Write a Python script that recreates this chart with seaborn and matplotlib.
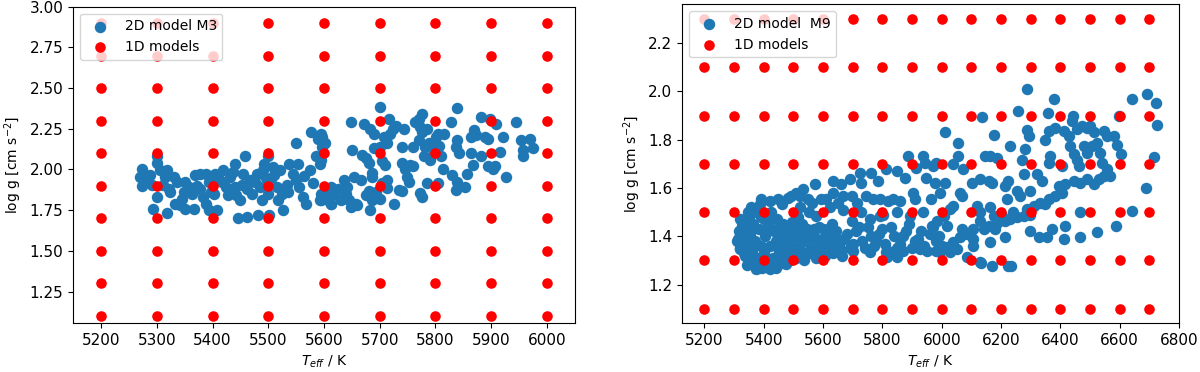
import numpy as np
import pandas as pd
import matplotlib
matplotlib.use('Agg')
import matplotlib.pyplot as plt
import seaborn as sns

# 1D model grids (red)
grid_teff_m3 = [5200, 5300, 5400, 5500, 5600, 5700, 5800, 5900, 6000]
grid_logg_m3 = [1.1, 1.3, 1.5, 1.7, 1.9, 2.1, 2.3, 2.5, 2.7, 2.9]
grid_teff_m9 = [5200, 5300, 5400, 5500, 5600, 5700, 5800, 5900, 6000,
                6100, 6200, 6300, 6400, 6500, 6600, 6700]
grid_logg_m9 = [1.1, 1.3, 1.5, 1.7, 1.9, 2.1, 2.3]

# 2D model M3 snapshots (blue)
m3_teff = [5273, 5270, 5273, 5288, 5291, 5300, 5300, 5300, 5294, 5318, 5306, 5318, 5315,
           5312, 5324, 5330, 5336, 5333, 5342, 5351, 5366, 5351, 5348, 5357, 5363, 5368,
           5377, 5389, 5377, 5383, 5393, 5389, 5393, 5408, 5402, 5405, 5419, 5417, 5425,
           5431, 5437, 5440, 5440, 5443, 5449, 5446, 5458, 5455, 5452, 5461, 5467, 5470,
           5479, 5482, 5485, 5488, 5493, 5490, 5496, 5500, 5502, 5500, 5508, 5511, 5515,
           5518, 5521, 5524, 5527, 5533, 5538, 5544, 5550, 5550, 5553, 5556, 5562, 5568,
           5574, 5577, 5580, 5586, 5589, 5593, 5593, 5595, 5598, 5601, 5607, 5613, 5616,
           5597, 5597, 5594, 5594, 5594, 5612, 5618, 5612, 5630, 5636, 5642, 5639, 5645,
           5648, 5654, 5657, 5660, 5666, 5648, 5651, 5672, 5683, 5689, 5668, 5676, 5680,
           5686, 5686, 5676, 5680, 5686, 5683, 5693, 5701, 5704, 5713, 5713, 5689, 5701,
           5704, 5710, 5707, 5713, 5716, 5701, 5719, 5723, 5729, 5725, 5734, 5740, 5740,
           5743, 5740, 5746, 5749, 5752, 5755, 5760, 5760, 5764, 5770, 5773, 5776, 5770,
           5776, 5773, 5776, 5779, 5782, 5785, 5785, 5788, 5791, 5797, 5798, 5801, 5804,
           5804, 5807, 5810, 5814, 5816, 5827, 5829, 5836, 5836, 5839, 5839, 5839, 5842,
           5853, 5856, 5863, 5863, 5867, 5869, 5873, 5882, 5882, 5888, 5894, 5894, 5897,
           5903, 5906, 5909, 5915, 5921, 5927, 5945, 5954, 5957, 5957, 5969, 5975,
           5285, 5322, 5345, 5372, 5398, 5412, 5428, 5462, 5476, 5505, 5535, 5565, 5625]
m3_logg = [2.00, 1.955, 1.90, 1.965, 1.905, 2.08, 2.037, 1.83, 1.76, 1.73, 1.995, 1.995, 1.955,
           1.905, 1.86, 1.955, 1.925, 1.79, 1.78, 1.76, 1.76, 1.925, 1.86, 1.89, 1.85, 1.965,
           1.975, 1.975, 1.88, 1.83, 1.925, 1.79, 1.75, 1.75, 1.85, 1.975, 1.995, 1.925, 1.89,
           1.955, 1.985, 2.035, 1.89, 1.84, 1.81, 1.70, 2.08, 1.975, 1.905, 1.71, 1.935, 1.85,
           1.975, 1.72, 1.89, 1.81, 2.035, 1.995, 1.945, 1.85, 1.72, 2.08, 2.015, 1.965, 1.89,
           1.81, 1.995, 1.85, 1.75, 1.905, 2.035, 1.975, 2.16, 1.935, 2.035, 1.89, 1.83, 1.79,
           1.995, 2.23, 1.915, 2.08, 2.185, 2.035, 1.81, 2.22, 1.85, 2.16, 1.81, 1.79, 1.85,
           2.20, 2.14, 2.06, 1.85, 1.81, 1.895, 1.85, 1.79, 1.81, 1.935, 1.895, 1.85, 1.81,
           1.77, 1.955, 1.79, 1.78, 1.935, 2.29, 2.12, 2.28, 2.25, 2.22, 2.09, 2.07, 2.04,
           1.98, 1.955, 1.84, 1.87, 1.81, 1.75, 1.86, 1.82, 1.915, 1.935, 1.885, 2.13, 2.14,
           2.05, 2.03, 2.20, 2.16, 2.31, 2.385, 2.22, 2.25, 2.27, 1.79, 1.875, 1.865, 2.14,
           2.25, 2.04, 2.005, 1.955, 1.925, 2.03, 2.02, 2.14, 2.29, 2.18, 2.26, 2.34, 2.31,
           2.23, 1.855, 1.83, 2.08, 2.14, 1.915, 2.25, 2.16, 2.06, 2.10, 2.14, 2.20, 2.22,
           1.915, 2.145, 2.08, 2.00, 2.22, 2.29, 1.965, 2.14, 1.875, 2.375, 2.18, 1.925, 2.10,
           1.895, 1.975, 2.20, 2.10, 2.03, 2.24, 2.21, 2.08, 2.325, 2.20, 2.19, 2.02, 2.31,
           2.00, 2.02, 2.28, 2.11, 2.20, 1.955, 2.29, 2.18, 2.12, 2.08, 2.19, 2.13,
           1.93, 1.88, 1.82, 1.90, 1.86, 1.94, 1.84, 1.88, 1.92, 1.94, 1.86, 1.96, 1.88]

# 2D model M9 snapshots (blue)
m9_teff = [
    # upper band
    5319, 5325, 5347, 5358, 5387, 5392, 5420, 5448, 5460, 5482, 5493, 5510, 5521, 5533,
    5550, 5561, 5573, 5594, 5611, 5633, 5633, 5651, 5662, 5667, 5690, 5696, 5713, 5724,
    5729, 5746, 5763, 5769, 5785, 5792, 5792, 5813, 5819, 5836, 5848, 5858, 5875, 5886,
    5903, 5909, 5936, 5942, 5948, 5914, 5965, 5982, 5976,
    5521, 5554, 5577, 5622, 5667, 5696, 5729, 5757, 5802, 5848, 5892, 5937,
    # lower edge and left edge
    5375, 5420, 5476, 5533, 5589, 5645, 5701, 5757, 5813, 5870, 5926, 5982,
    5319, 5313, 5325, 5336, 5353,
    # dense blob
    5310, 5315, 5320, 5325, 5330, 5335, 5340, 5345, 5350, 5350, 5355, 5360, 5365, 5370,
    5370, 5375, 5380, 5385, 5390, 5395, 5400, 5400, 5405, 5410, 5415, 5420, 5425, 5430,
    5435, 5440, 5440, 5445, 5450, 5455, 5460, 5465, 5470, 5475, 5480, 5485, 5490, 5495,
    5500, 5505, 5510, 5515, 5520, 5525, 5530, 5535, 5540, 5545, 5555, 5565, 5575, 5585,
    5595, 5605, 5615, 5625, 5635, 5645, 5655, 5665,
    5342, 5362, 5384, 5408, 5432, 5452, 5474, 5498, 5338, 5358, 5392, 5418, 5446, 5468,
    # main band 5500-6000
    5500, 5520, 5540, 5560, 5580, 5600, 5620, 5640, 5660, 5680, 5700, 5720, 5740, 5760,
    5780, 5800, 5820, 5840, 5860, 5880, 5900, 5920, 5940, 5960, 5980, 6000,
    5510, 5530, 5550, 5570, 5590, 5610, 5630, 5650, 5670, 5690, 5710, 5730, 5750, 5770,
    5790, 5810, 5830, 5850, 5870, 5890, 5910, 5930, 5950, 5970, 5990,
    5816, 5850,
    # hot end
    6287, 6377, 6642, 6693, 6721, 6727, 6716, 6688, 6642, 6586, 6256, 6135, 6357, 6443,
    6439, 6597, 6011, 6175, 6287, 6293, 6349, 6361, 6383, 6411, 6428, 6456, 6473, 6490,
    6501, 6513, 6546, 6558, 6580, 6591, 6603, 6231, 6056, 6281, 6270, 6146, 6163, 6186,
    6056, 6039, 6073, 6366, 6361, 6406, 6434, 6445, 6456, 6462, 6479, 6490, 6507, 6524,
    6535, 6541, 6558, 6569, 6546, 6530, 6513, 6490, 6467, 6445, 6417, 6394, 6406, 6383,
    6361, 6349, 6332, 6310, 6287, 6298, 6276, 6254, 6242, 6231, 6214, 6203, 6186, 6180,
    6158, 6141, 6130, 6107, 6085, 6062, 6039, 6017, 5994, 6028, 6051, 6085, 6130, 6169,
    6225, 6107, 6163, 6214, 6298, 6327, 6355, 6372, 6411, 6417, 6467, 6467, 6524, 6118,
    6130, 6163, 6175, 6006, 6028, 5983, 5966, 5972, 5994, 6011, 6062, 6068, 6101, 6130,
    6158, 6169, 6214, 6225, 6253, 6265, 6276, 6298, 6321, 6338, 6220, 6039, 6017, 6068,
    6107, 6131, 6232]
m9_logg = [
    1.47, 1.444, 1.50, 1.52, 1.533, 1.554, 1.547, 1.554, 1.533, 1.56, 1.567, 1.58, 1.567, 1.595,
    1.554, 1.54, 1.615, 1.554, 1.554, 1.63, 1.58, 1.54, 1.615, 1.567, 1.636, 1.567, 1.54, 1.664,
    1.62, 1.567, 1.664, 1.554, 1.63, 1.554, 1.485, 1.677, 1.547, 1.554, 1.67, 1.547, 1.643, 1.732,
    1.58, 1.554, 1.732, 1.705, 1.643, 1.684, 1.554, 1.705, 1.622,
    1.52, 1.50, 1.485, 1.52, 1.51, 1.464, 1.50, 1.47, 1.49, 1.50, 1.485, 1.50,
    1.265, 1.265, 1.286, 1.313, 1.334, 1.34, 1.34, 1.334, 1.334, 1.34, 1.347, 1.34,
    1.347, 1.39, 1.42, 1.32, 1.293,
    1.38, 1.42, 1.35, 1.46, 1.40, 1.33, 1.44, 1.37, 1.30, 1.48, 1.41, 1.34, 1.45, 1.28,
    1.38, 1.50, 1.31, 1.43, 1.36, 1.27, 1.47, 1.33, 1.40, 1.29, 1.44, 1.36, 1.50, 1.31,
    1.42, 1.27, 1.38, 1.47, 1.34, 1.41, 1.29, 1.45, 1.37, 1.32, 1.43, 1.39, 1.30, 1.46,
    1.35, 1.42, 1.31, 1.48, 1.40, 1.34, 1.45, 1.30, 1.38, 1.43, 1.33, 1.41, 1.31, 1.44,
    1.38, 1.32, 1.43, 1.39, 1.33, 1.42, 1.36, 1.32,
    1.28, 1.29, 1.27, 1.28, 1.30, 1.32, 1.35, 1.34, 1.47, 1.45, 1.48, 1.46, 1.43, 1.40,
    1.40, 1.37, 1.42, 1.35, 1.39, 1.43, 1.36, 1.40, 1.34, 1.41, 1.37, 1.44, 1.35, 1.40,
    1.38, 1.43, 1.34, 1.40, 1.37, 1.42, 1.35, 1.39, 1.36, 1.41, 1.38, 1.36,
    1.45, 1.33, 1.39, 1.43, 1.36, 1.41, 1.45, 1.37, 1.39, 1.35, 1.42, 1.38, 1.44, 1.36,
    1.41, 1.37, 1.44, 1.35, 1.40, 1.45, 1.38, 1.42, 1.34, 1.44, 1.40,
    1.314, 1.314,
    2.01, 1.97, 1.97, 1.99, 1.95, 1.86, 1.73, 1.60, 1.505, 1.444, 1.92, 1.893, 1.911, 1.897,
    1.877, 1.897, 1.83, 1.82, 1.84, 1.815, 1.80, 1.835, 1.85, 1.835, 1.815, 1.843, 1.857, 1.85,
    1.857, 1.83, 1.835, 1.815, 1.815, 1.78, 1.74, 1.774, 1.787, 1.76, 1.718, 1.732, 1.732, 1.725,
    1.732, 1.698, 1.677, 1.732, 1.705, 1.69, 1.774, 1.74, 1.718, 1.69, 1.774, 1.746, 1.774, 1.787,
    1.746, 1.705, 1.677, 1.65, 1.65, 1.636, 1.615, 1.636, 1.622, 1.63, 1.615, 1.609, 1.58, 1.567,
    1.554, 1.533, 1.54, 1.526, 1.512, 1.49, 1.485, 1.478, 1.50, 1.47, 1.464, 1.485, 1.457, 1.43,
    1.444, 1.43, 1.464, 1.43, 1.41, 1.396, 1.375, 1.354, 1.334, 1.334, 1.347, 1.313, 1.293, 1.279,
    1.279, 1.361, 1.375, 1.396, 1.423, 1.396, 1.396, 1.43, 1.39, 1.444, 1.396, 1.50, 1.416, 1.526,
    1.50, 1.52, 1.485, 1.485, 1.512, 1.464, 1.444, 1.69, 1.58, 1.622, 1.58, 1.567, 1.622, 1.636,
    1.63, 1.622, 1.609, 1.63, 1.588, 1.567, 1.657, 1.588, 1.657, 1.63, 1.554, 1.526, 1.444, 1.43,
    1.389, 1.29, 1.277]

blue = '#1f77b4'
red = '#ff0000'


def grid_frame(teffs, loggs):
    tt, gg = np.meshgrid(teffs, loggs)
    return pd.DataFrame({'teff': tt.ravel(), 'logg': gg.ravel()})


fig = plt.figure(figsize=(12, 3.72), dpi=100)
ax1 = fig.add_axes([0.061, 0.131, 0.418, 0.851])
ax2 = fig.add_axes([0.5685, 0.131, 0.414, 0.857])

panels = [
    (ax1, m3_teff, m3_logg, grid_teff_m3, grid_logg_m3, '2D model M3'),
    (ax2, m9_teff, m9_logg, grid_teff_m9, grid_logg_m9, '2D model  M9'),
]

for ax, t2d, g2d, gt, gg, lab in panels:
    sns.scatterplot(x=t2d, y=g2d, color=blue, s=68, linewidth=0, label=lab, ax=ax)
    grid = grid_frame(gt, gg)
    sns.scatterplot(data=grid, x='teff', y='logg', color=red, s=58, linewidth=0,
                    label='1D models', ax=ax)
    ax.set_xlabel('$T_{eff}$ / K', fontsize=10)
    ax.set_ylabel('log g [cm s$^{-2}$]', fontsize=10)
    ax.tick_params(labelsize=11)
    ax.legend(loc='upper left', fontsize=10, framealpha=0.8)

ax1.set_xlim(5150, 6050)
ax1.set_ylim(1.055, 3.0)
ax1.set_xticks(grid_teff_m3)
ax1.set_yticks([1.25, 1.5, 1.75, 2.0, 2.25, 2.5, 2.75, 3.0])
ax1.yaxis.set_major_formatter(matplotlib.ticker.FormatStrFormatter('%.2f'))

ax2.set_xlim(5125, 6800)
ax2.set_ylim(1.04, 2.36)
ax2.set_xticks(range(5200, 6801, 200))
ax2.set_yticks([1.2, 1.4, 1.6, 1.8, 2.0, 2.2])

fig.savefig('out.png', dpi=100)
